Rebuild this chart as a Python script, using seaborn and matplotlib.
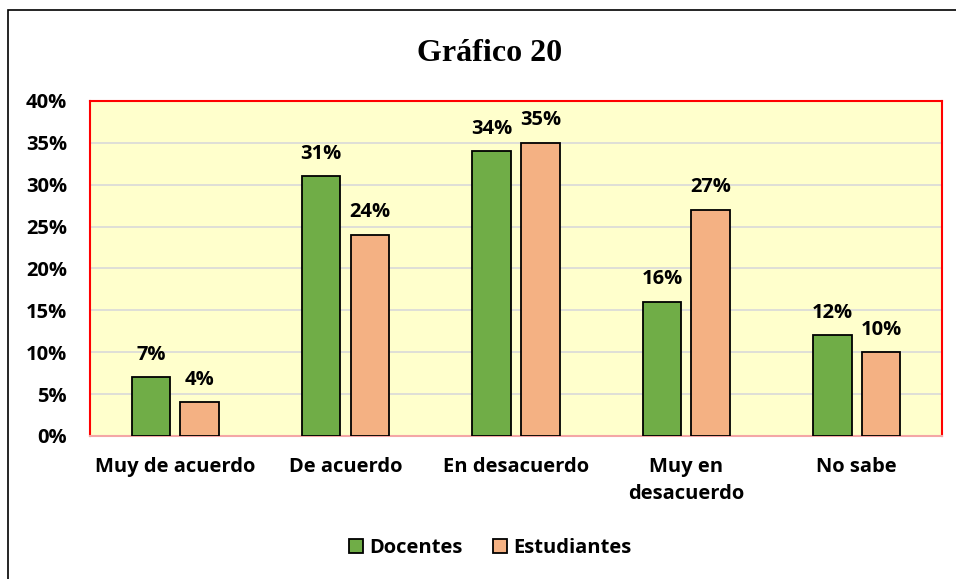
import pandas as pd
import matplotlib.pyplot as plt
import seaborn as sns
from matplotlib.patches import Rectangle, Patch

categorias = ["Muy de acuerdo", "De acuerdo", "En desacuerdo", "Muy en\ndesacuerdo", "No sabe"]
docentes = [7, 31, 34, 16, 12]
estudiantes = [4, 24, 35, 27, 10]
yticks = [0, 5, 10, 15, 20, 25, 30, 35, 40]

df = pd.DataFrame({
    "categoria": categorias * 2,
    "valor": docentes + estudiantes,
    "grupo": ["Docentes"] * len(categorias) + ["Estudiantes"] * len(categorias),
})

sns.set_style("white")
plt.rcParams['font.family'] = ['Open Sans', 'DejaVu Sans']
plt.rcParams['font.weight'] = 'bold'
plt.rcParams['text.color'] = 'black'
plt.rcParams['xtick.color'] = 'black'
plt.rcParams['ytick.color'] = 'black'

colores = {"Docentes": "#70AD47", "Estudiantes": "#F4B183"}
fs = 14.5

fig = plt.figure(figsize=(9.56, 5.79), dpi=100)
ax = fig.add_axes([0.0941, 0.2470, 0.8912, 0.5786])

sns.barplot(data=df, x="categoria", y="valor", hue="grupo", palette=colores,
            saturation=1, width=0.572, gap=0.21, edgecolor="black", linewidth=1.3,
            ax=ax, legend=False, zorder=3)

ax.set_facecolor("#FFFFCC")
ax.set_ylim(0, 40)
ax.set_xlim(-0.5, len(categorias) - 0.5)
ax.set_yticks(yticks)
ax.set_yticklabels([f"{v}%" for v in yticks], fontsize=fs, fontweight="bold")
ax.tick_params(axis="y", length=0, pad=16.5)
ax.tick_params(axis="x", length=0, pad=15, labelsize=fs)
for lbl in ax.get_xticklabels():
    lbl.set_fontweight("bold")
    lbl.set_linespacing(1.5)
ax.set_xlabel("")
ax.set_ylabel("")
ax.grid(axis="y", color="#D9D9D9", linewidth=1.2, zorder=0)
ax.set_axisbelow(True)

for side in ["left", "top", "right"]:
    ax.spines[side].set_color("#FF0000")
    ax.spines[side].set_linewidth(1.5)
ax.spines["bottom"].set_color("#F4A6A6")
ax.spines["bottom"].set_linewidth(1.5)

for cont in ax.containers:
    for bar in cont:
        h = bar.get_height()
        ax.annotate(f"{h:.0f}%", (bar.get_x() + bar.get_width() / 2, h),
                    xytext=(0, 9), textcoords="offset points",
                    ha="center", va="bottom", fontsize=fs, fontweight="bold")

fig.text(0.5126, 0.908, "Gráfico 20", ha="center", va="center",
         fontsize=23, fontweight="bold", family=["Liberation Serif", "DejaVu Serif"])

handles = [Patch(facecolor=colores[k], edgecolor="black", linewidth=1.3, label=k)
           for k in ["Docentes", "Estudiantes"]]
fig.legend(handles=handles, loc="center", bbox_to_anchor=(0.5126, 0.053), ncol=2,
           frameon=False, fontsize=fs, handlelength=0.7, handleheight=0.7,
           handletextpad=0.3, columnspacing=1.5)

fig.patches.append(Rectangle((0.008, -0.01), 1.0, 0.993, transform=fig.transFigure,
                             fill=False, edgecolor="black", linewidth=1.2))

fig.savefig("out.png", dpi=100)
